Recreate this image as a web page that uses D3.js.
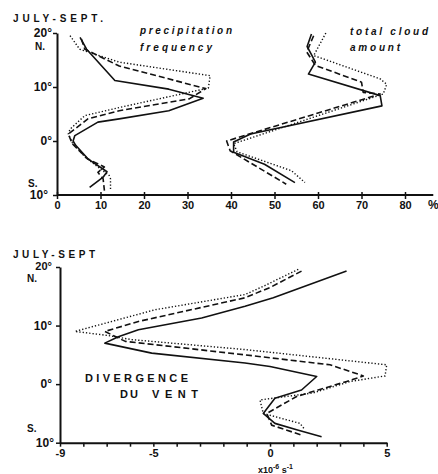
<!DOCTYPE html>
<html><head><meta charset="utf-8">
<script src="https://cdn.jsdelivr.net/npm/d3@7"></script>
<style>body{margin:0;background:#fff}svg{display:block}</style>
</head><body>
<svg id="c" width="438" height="474"></svg>
<script>
// ---------- data ----------
const topXTicks = [0,10,20,30,40,50,60,70,80];
const latTicks = [20,10,0,-10];
const latLabels = ["20°","10°","0°","10°"];
const botXTicks = [-9,-8,-7,-6,-5,-4,-3,-2,-1,0,1,2,3,4,5];
const botXLabelled = [-9,-5,0,5];

// [value, latitude]
const precipSolid = [[5.3,19.2],[6.8,17],[13.3,11.2],[25.7,9.6],[33.6,7.9],[25.7,5.6],[14.3,4.1],[9.4,3.5],[4.1,1.0],[3.7,0],[4.3,-0.8],[7.1,-3.3],[11.5,-5.7],[10.6,-6.7],[7.5,-8.6]];
const precipDashed = [[5.6,18.9],[6.4,17],[14.3,13.9],[34.2,9.7],[30.4,7.8],[14.3,5.6],[7.1,4.1],[4.1,2.2],[2.6,1.3],[3.5,-0.5],[7.0,-3.3],[10.9,-4.8],[9.4,-5.8],[10.6,-7],[10.9,-9.2]];
const precipDotted = [[3,19.5],[5.2,17],[14.3,14.6],[35.2,12.1],[34.8,9.8],[14.3,6.2],[6.4,4.7],[3,2.2],[2.6,1.3],[3.5,-0.3],[6.5,-3],[12,-6.4],[12.3,-7],[12.3,-9.2]];

const cloudSolid = [[58.5,19.8],[57.5,17.5],[58.5,16],[59.4,14.6],[57.8,12.4],[74.3,8.4],[74.7,6.5],[44.5,1.3],[40.6,-0.2],[40.6,-2.1],[47.7,-4.3],[54.7,-7.7]];
const cloudDashed = [[59,19.5],[57.4,16.5],[59.4,14],[70,10.9],[70.4,9],[74.3,8.7],[39,0],[39.8,-1.8],[52.7,-8]];
const cloudDotted = [[61.8,20],[59,15.8],[60.2,15.5],[74.3,11.5],[75.8,10.5],[75,8.7],[40.6,-0.5],[41.4,-2],[53.9,-5.5],[57,-7.7]];

const divSolid = [[3.28,19.3],[0.14,14.75],[-1.07,13.3],[-2.93,11.3],[-5.64,9.3],[-6.5,8.1],[-7.08,7.0],[-5.07,5.3],[-1.07,3.6],[0,3],[2.0,1.3],[1.35,-1],[0.21,-2.4],[-0.29,-5],[0.21,-6.7],[1.14,-7.8],[2.21,-9]];
const divDashed = [[1.35,19.3],[0,16.5],[-1.07,14.75],[-5.64,10.7],[-7.08,9.0],[-6.2,7.3],[-1.07,5.0],[2.57,3.3],[4.0,1.4],[3.28,0.45],[1.14,-2.1],[-0.14,-5],[0.07,-7],[1.35,-8.7]];
const divDotted = [[1.21,19.6],[-0.29,16.7],[-1.07,15.3],[-4.93,12.7],[-8.36,9.0],[-6.93,8.3],[-5.93,7.6],[-1.07,5.9],[5.0,3.3],[4.93,1.4],[3.43,0.45],[1.85,-1.5],[-0.43,-2.7],[-0.29,-5],[1.28,-6.7],[1.5,-7.8]];

// ---------- drawing ----------
const svg = d3.select("#c");
const FONT = "'Liberation Sans', Arial, sans-serif";
const INK = "#111";

const xTop = d3.scaleLinear([0,80],[57,405]);
const yTop = d3.scaleLinear([-10,20],[195,33]);
const xBot = d3.scaleLinear([-9,5],[60,386.7]);
const yBot = d3.scaleLinear([-10,20],[442.7,267]);

const styles = {
  solid:  {w:1.6, dash:null},
  dashed: {w:1.6, dash:"6,3"},
  dotted: {w:1.4, dash:"1.3,2"}
};

function series(data, x, y, st){
  const line = d3.line().x(d=>x(d[0])).y(d=>y(d[1]));
  svg.append("path").attr("d", line(data))
    .attr("fill","none").attr("stroke",INK)
    .attr("stroke-width", styles[st].w)
    .attr("stroke-dasharray", styles[st].dash)
    .attr("stroke-linejoin","round");
}

function txt(s, x, y, o={}){
  const t = svg.append("text").attr("x",x).attr("y",y).text(s)
    .attr("font-family",FONT).attr("font-weight","bold")
    .attr("font-size",o.size||11).attr("fill",INK)
    .attr("text-anchor",o.anchor||"start");
  if(o.italic) t.attr("font-style","italic");
  if(o.len) t.attr("textLength",o.len).attr("lengthAdjust",o.adj||"spacing");
  return t;
}

// ---- top panel axes ----
const gTx = svg.append("g").attr("transform",`translate(0,${yTop(-10)})`)
  .call(d3.axisBottom(xTop).tickValues(topXTicks).tickSize(4).tickFormat(d=>String(d)));
gTx.select(".domain").remove();
gTx.selectAll(".tick line").attr("y1",-3).attr("y2",4).attr("stroke",INK).attr("stroke-width",1.5);
gTx.selectAll(".tick text").attr("y",14).attr("dy",0)
  .attr("font-family",FONT).attr("font-weight","bold").attr("font-size",11).attr("fill",INK);
svg.append("line").attr("x1",xTop(0)).attr("x2",xTop(86.5))
  .attr("y1",yTop(-10)).attr("y2",yTop(-10)).attr("stroke",INK).attr("stroke-width",2);

const gTy = svg.append("g").attr("transform",`translate(${xTop(0)},0)`)
  .call(d3.axisLeft(yTop).tickValues(latTicks).tickSize(4).tickSizeOuter(0).tickFormat(()=>""));
gTy.select(".domain").attr("stroke",INK).attr("stroke-width",2);
gTy.selectAll(".tick line").attr("stroke",INK).attr("stroke-width",1.5);

latTicks.forEach((d,i)=>{
  txt(latLabels[i], d===-10 ? 48 : 52, yTop(d)+4, {anchor:"end", size:12});
});
txt("N.", 35, yTop(20)+17, {size:10});
txt("S.", 28, yTop(-10)-8, {size:10});
txt("%", 428, 209, {size:12});
txt("JULY-SEPT.", 13, 22, {size:10, len:90});
txt("precipitation", 140, 34, {size:10, italic:true, len:92});
txt("frequency", 140, 51, {size:10, italic:true, len:72});
txt("total cloud", 350, 35, {size:10, italic:true, len:78});
txt("amount", 350, 51, {size:10, italic:true, len:50});

series(precipSolid, xTop, yTop, "solid");
series(precipDashed, xTop, yTop, "dashed");
series(precipDotted, xTop, yTop, "dotted");
series(cloudSolid, xTop, yTop, "solid");
series(cloudDashed, xTop, yTop, "dashed");
series(cloudDotted, xTop, yTop, "dotted");

// ---- bottom panel axes ----
const gBx = svg.append("g").attr("transform",`translate(0,${yBot(-10)})`)
  .call(d3.axisBottom(xBot).tickValues(botXTicks).tickSize(4).tickSizeOuter(0)
    .tickFormat(d=>botXLabelled.includes(d)?String(d):""));
gBx.select(".domain").attr("stroke",INK).attr("stroke-width",2);
gBx.selectAll(".tick line").attr("stroke",INK).attr("stroke-width",1.5);
gBx.selectAll(".tick text").attr("y",14).attr("dy",0)
  .attr("font-family",FONT).attr("font-weight","bold").attr("font-size",11).attr("fill",INK);

const gBy = svg.append("g").attr("transform",`translate(${xBot(-9)},0)`)
  .call(d3.axisLeft(yBot).tickValues(latTicks).tickSize(4).tickSizeOuter(0).tickFormat(()=>""));
gBy.select(".domain").attr("stroke",INK).attr("stroke-width",2);
gBy.selectAll(".tick line").attr("stroke",INK).attr("stroke-width",1.5);

latTicks.forEach((d,i)=>{
  txt(latLabels[i], d===-10 ? 54 : 52, yBot(d)+(d===20?3:4), {anchor:"end", size:d===20?11:12});
});
txt("N.", 27, yBot(20)+15, {size:10});
txt("S.", 27, yBot(-10)-11, {size:10});
txt("JULY-SEPT", 13, 258, {size:10, len:82});
txt("DIVERGENCE", 85, 382, {size:11, len:103});
txt("DU", 120, 398, {size:11, len:18});
txt("VENT", 152, 398, {size:11, len:46});
const unit = txt("x10", 258, 473, {size:9});
unit.append("tspan").attr("dy",-4).attr("font-size",7).text("-6");
unit.append("tspan").attr("dy",4).text(" s");
unit.append("tspan").attr("dy",-4).attr("font-size",7).text("-1");

series(divSolid, xBot, yBot, "solid");
series(divDashed, xBot, yBot, "dashed");
series(divDotted, xBot, yBot, "dotted");
</script>
</body></html>
